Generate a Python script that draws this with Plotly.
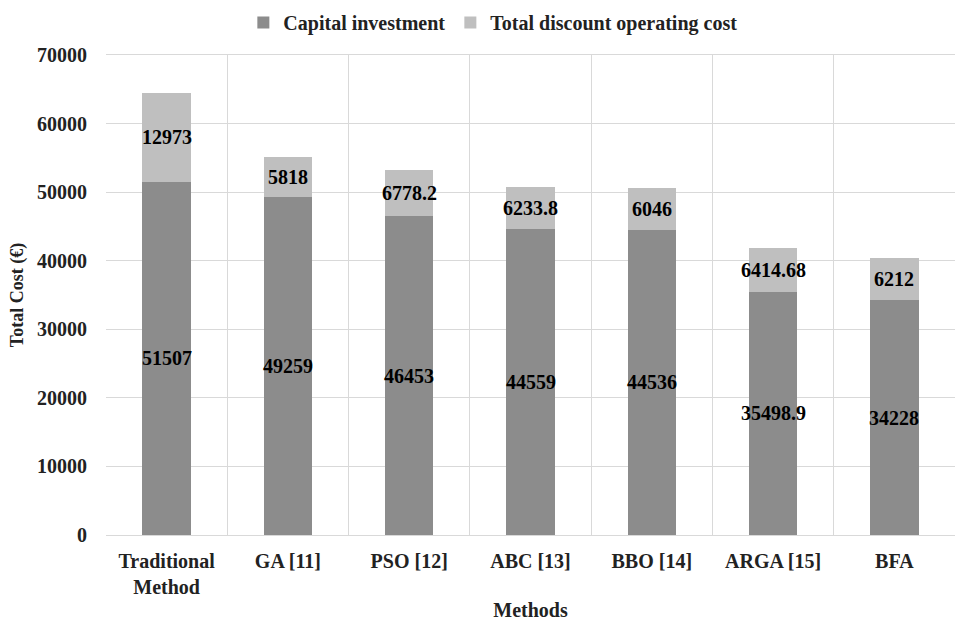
import plotly.graph_objects as go

methods = ["Traditional<br>Method", "GA [11]", "PSO [12]", "ABC [13]", "BBO [14]", "ARGA [15]", "BFA"]
capital = [51507, 49259, 46453, 44559, 44536, 35498.9, 34228]
discount = [12973, 5818, 6778.2, 6233.8, 6046, 6414.68, 6212]
y_ticks = [0, 10000, 20000, 30000, 40000, 50000, 60000, 70000]

FONT = "Liberation Serif"
FS = 20
fig = go.Figure()
fig.add_trace(go.Bar(name="<b>Capital investment</b>", x=methods, y=capital,
                     marker=dict(color="#8c8c8c", line=dict(width=0)), width=0.4))
fig.add_trace(go.Bar(name="<b>Total discount operating cost</b>", x=methods, y=discount,
                     marker=dict(color="#bfbfbf", line=dict(width=0)), width=0.4))

def fmt(v):
    return "<b>" + ("%g" % v) + "</b>"

anns = []
for m, c, d in zip(methods, capital, discount):
    anns.append(dict(x=m, y=c / 2, text=fmt(c), showarrow=False,
                     font=dict(family=FONT, size=FS, color="black")))
    anns.append(dict(x=m, y=c + d / 2, text=fmt(d), showarrow=False,
                     font=dict(family=FONT, size=FS, color="black")))

fig.update_layout(
    barmode="stack",
    width=957, height=621,
    margin=dict(l=106, r=2, t=55, b=86),
    paper_bgcolor="white", plot_bgcolor="white",
    font=dict(family=FONT, size=FS, color="#222"),
    annotations=anns,
    legend=dict(orientation="h", x=0.515, xanchor="center", xref="container",
                y=0.995, yanchor="top", yref="container",
                font=dict(family=FONT, size=FS, color="#222"),
                itemwidth=30, traceorder="normal"),
    xaxis=dict(tickson="boundaries", showgrid=True, gridcolor="#d9d9d9", gridwidth=1,
               ticks="", showline=True, linecolor="#d9d9d9", mirror=True, automargin=False,
               tickvals=methods, ticktext=["<b>" + m + "</b>" for m in methods],
               ticklabelstandoff=8,
               title=dict(text="<b>Methods</b>", font=dict(family=FONT, size=FS), standoff=14),
               tickfont=dict(family=FONT, size=FS)),
    yaxis=dict(range=[0, 70000], tickvals=y_ticks, ticktext=["<b>%d</b>" % t for t in y_ticks],
               showgrid=True, gridcolor="#d9d9d9", automargin=False,
               zeroline=False, showline=False, ticks="", ticklabelstandoff=18,
               title=dict(text="<b>Total Cost (€)</b>", font=dict(family=FONT, size=18), standoff=8),
               tickfont=dict(family=FONT, size=FS)),
)
fig.write_html("out.html")
